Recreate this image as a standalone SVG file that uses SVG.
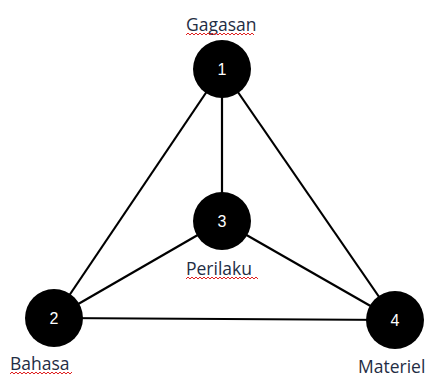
<svg xmlns="http://www.w3.org/2000/svg" width="435" height="377" viewBox="0 0 435 377">
<style>
.edge{stroke:#000;stroke-width:2.2;fill:none}
.node{fill:#000}
.num{fill:#fff;font-family:"Liberation Sans",Arial,sans-serif;font-size:16px;text-anchor:middle}
.lbl{fill:#1f2d44;font-family:"Open Sans","Liberation Sans",sans-serif;font-size:17.5px}
.wave{stroke:#e02020;stroke-width:1;fill:none}
</style>
<rect width="435" height="377" fill="#fff"/>
<g id="connectors">
<line class="edge" x1="222" y1="69" x2="54" y2="318"/>
<line class="edge" x1="222" y1="69" x2="222" y2="221"/>
<line class="edge" x1="222" y1="69" x2="395" y2="320"/>
<line class="edge" x1="222" y1="221" x2="54" y2="318"/>
<line class="edge" x1="222" y1="221" x2="395" y2="320"/>
<line class="edge" x1="54" y1="318" x2="395" y2="320"/>
</g>
<g id="node1">
<circle class="node" cx="222" cy="69" r="29"/>
<text class="num" x="222" y="75">1</text>
<text class="lbl" x="186" y="31">Gagasan</text>
<path class="wave" d="M186 35 l2 -2 l2 2 l2 -2 l2 2 l2 -2 l2 2 l2 -2 l2 2 l2 -2 l2 2 l2 -2 l2 2 l2 -2 l2 2 l2 -2 l2 2 l2 -2 l2 2 l2 -2 l2 2 l2 -2 l2 2 l2 -2 l2 2 l2 -2 l2 2 l2 -2 l2 2 l2 -2 l2 2 l2 -2 l2 2 l2 -2 l2 2"/>
</g>
<g id="node3">
<circle class="node" cx="222" cy="221" r="29"/>
<text class="num" x="222" y="227">3</text>
<text class="lbl" x="186" y="275">Perilaku</text>
<path class="wave" d="M186 279 l2 -2 l2 2 l2 -2 l2 2 l2 -2 l2 2 l2 -2 l2 2 l2 -2 l2 2 l2 -2 l2 2 l2 -2 l2 2 l2 -2 l2 2 l2 -2 l2 2 l2 -2 l2 2 l2 -2 l2 2 l2 -2 l2 2 l2 -2 l2 2 l2 -2 l2 2 l2 -2 l2 2 l2 -2 l2 2 l2 -2 l2 2 l2 -2 l2 2"/>
</g>
<g id="node2">
<circle class="node" cx="54" cy="318" r="29"/>
<text class="num" x="54" y="324">2</text>
<text class="lbl" x="10" y="370">Bahasa</text>
<path class="wave" d="M10 374 l2 -2 l2 2 l2 -2 l2 2 l2 -2 l2 2 l2 -2 l2 2 l2 -2 l2 2 l2 -2 l2 2 l2 -2 l2 2 l2 -2 l2 2 l2 -2 l2 2 l2 -2 l2 2 l2 -2 l2 2 l2 -2 l2 2 l2 -2 l2 2 l2 -2 l2 2 l2 -2 l2 2 l2 -2"/>
</g>
<g id="node4">
<circle class="node" cx="395" cy="320" r="29"/>
<text class="num" x="395" y="326">4</text>
<text class="lbl" x="358" y="373">Materiel</text>
</g>
</svg>
